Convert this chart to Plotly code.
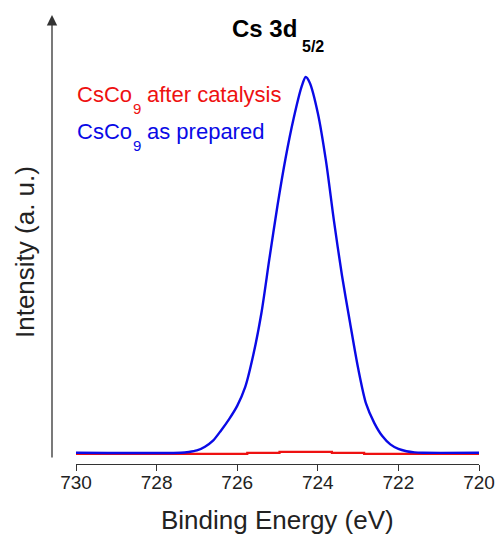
import plotly.graph_objects as go

# Blue: CsCo9 as prepared (binding energy in eV, intensity in a.u.)
be_prepared = [730.0, 727.4, 727.2, 727.0, 726.8, 726.6, 726.4, 726.2, 726.0, 725.8,
               725.6, 725.4, 725.2, 725.0, 724.8, 724.6, 724.4, 724.3, 724.2, 724.0,
               723.8, 723.6, 723.4, 723.2, 723.0, 722.8, 722.6, 722.4, 722.2, 722.0,
               721.8, 721.6, 721.4, 720.0]
int_prepared = [0.6, 0.6, 0.8, 1.2, 2.2, 3.8, 6.5, 9.5, 13.0, 18.0,
                26.5, 37.5, 52.0, 66.0, 78.5, 89.0, 97.5, 100.0, 98.5, 90.5,
                78.0, 62.0, 47.5, 35.0, 23.0, 13.5, 8.5, 5.0, 2.8, 1.6,
                1.0, 0.7, 0.6, 0.6]

# Red: CsCo9 after catalysis
be_after = [730.0, 725.75, 724.95, 723.65, 722.85, 720.0]
int_after = [0.3, 0.55, 0.85, 0.55, 0.3, 0.3]

x_ticks = [730, 728, 726, 724, 722, 720]
x_range = [730, 720]
y_range = [-2.38, 116.4]

FONT = "Arial, Liberation Sans, sans-serif"
RED = "#ee1111"
BLUE = "#0a0ae6"
AX = "#333333"
TXT = "#222222"

fig = go.Figure()
fig.add_trace(go.Scatter(x=be_after, y=int_after, mode="lines", line_shape="hv",
                         line=dict(color=RED, width=2.2), name="CsCo9 after catalysis"))
fig.add_trace(go.Scatter(x=be_prepared, y=int_prepared, mode="lines", line_shape="spline",
                         line=dict(color=BLUE, width=2.4, smoothing=0.8), name="CsCo9 as prepared"))

fig.update_layout(
    width=496, height=536,
    margin=dict(l=76, r=17, t=15, b=72, autoexpand=False),
    paper_bgcolor="white", plot_bgcolor="white",
    showlegend=False,
    font=dict(family=FONT, color=TXT),
    xaxis=dict(range=x_range, tickvals=x_ticks, ticktext=[str(t) for t in x_ticks],
               automargin=False,
               showgrid=False, zeroline=False, showline=True, linecolor=AX, linewidth=1,
               ticks="outside", ticklen=6, tickcolor=AX, tickwidth=1,
               ticklabelstandoff=-5,
               tickfont=dict(size=19, family=FONT, color=TXT)),
    yaxis=dict(range=y_range, showgrid=False, zeroline=False, showline=False,
               automargin=False, showticklabels=False, ticks=""),
)


def px_x(p):
    return (p - 76) / 403.0


def px_y(p):
    return (464 - p) / 449.0


def label(x, y, text, size, color, bold=False):
    t = f"<b>{text}</b>" if bold else text
    return dict(xref="paper", yref="paper", x=px_x(x), y=px_y(y), xanchor="left", yanchor="middle",
                text=t, showarrow=False, font=dict(size=size, family=FONT, color=color))


annotations = [
    # y-axis arrow
    dict(xref="paper", yref="paper", x=px_x(52), y=1.0, ax=0, ay=444, axref="pixel", ayref="pixel",
         text="", showarrow=True, arrowhead=2, arrowsize=1.6, arrowwidth=1.3, arrowcolor=AX, standoff=0),
    # title  Cs 3d_5/2
    label(229.5, 28.4, "Cs 3d", 24, "black", bold=True),
    label(299.5, 46.2, "5/2", 16, "black", bold=True),
    # series labels
    label(75.0, 94.1, "CsCo", 22, RED),
    label(130.5, 108.1, "9", 15, RED),
    label(145, 94.1, "after catalysis", 22, RED),
    label(75.0, 131.8, "CsCo", 22, BLUE),
    label(130.5, 145.8, "9", 15, BLUE),
    label(145, 131.8, "as prepared", 22, BLUE),
    # axis titles
    dict(xref="paper", yref="paper", x=0.5, y=px_y(520), xanchor="center", yanchor="middle",
         text="Binding Energy (eV)", showarrow=False, font=dict(size=26, family=FONT, color=TXT)),
    dict(xref="paper", yref="paper", x=px_x(25), y=px_y(252), xanchor="center", yanchor="middle",
         text="Intensity (a. u.)", textangle=-90, showarrow=False, font=dict(size=26, family=FONT, color=TXT)),
]
fig.update_layout(annotations=annotations)

fig.write_html("out.html")
